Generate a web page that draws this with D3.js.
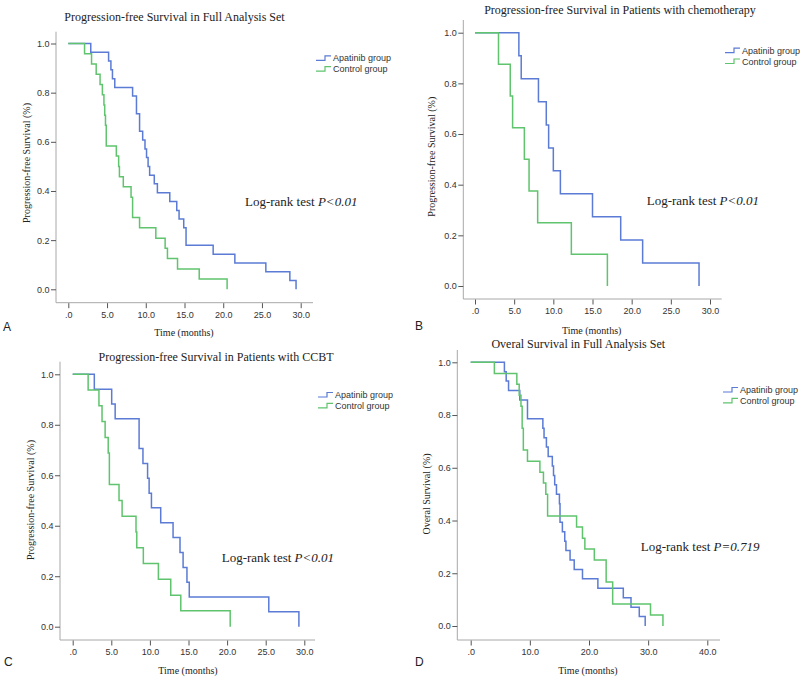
<!DOCTYPE html>
<html>
<head>
<meta charset="utf-8">
<script src="https://cdn.jsdelivr.net/npm/d3@7"></script>
<style>
  html, body { margin: 0; padding: 0; background: #fff; }
  svg { display: block; }
</style>
</head>
<body>
<svg id="chart" width="800" height="677"></svg>
<script>
// ---------------- DATA ----------------
const seriesNames = ["Apatinib group", "Control group"];
const yTickValues = [0, 0.2, 0.4, 0.6, 0.8, 1.0];
const xTicks30 = [0, 5, 10, 15, 20, 25, 30];
const xTicks40 = [0, 10, 20, 30, 40];

const panelTitles = [
  "Progression-free Survival in Full Analysis Set",
  "Progression-free Survival in Patients with chemotherapy",
  "Progression-free Survival in Patients with CCBT",
  "Overal Survival in Full Analysis Set"
];
const panelLetters = ["A", "B", "C", "D"];
const yAxisTitles = [
  "Progression-free Survival (%)",
  "Progression-free Survival (%)",
  "Progression-free Survival (%)",
  "Overal Survival (%)"
];
const xAxisTitle = "Time (months)";
const pValueTexts = ["P<0.01", "P<0.01", "P<0.01", "P=0.719"];

// [time (months), survival]
const pfsFullApatinib = [[0,1],[2.9,0.964],[5.2,0.929],[5.5,0.893],[5.7,0.857],[6.0,0.821],[8.3,0.786],[8.8,0.714],[9.2,0.643],[9.6,0.607],[9.9,0.571],[10.1,0.536],[10.3,0.5],[10.5,0.464],[11.1,0.429],[11.5,0.393],[13.1,0.357],[14.0,0.321],[14.3,0.286],[14.9,0.25],[15.2,0.179],[18.7,0.143],[21.5,0.107],[25.5,0.071],[28.6,0.036],[29.4,0]];
const pfsFullControl = [[0,1],[2.1,0.958],[3.0,0.917],[3.6,0.875],[4.1,0.833],[4.4,0.792],[4.6,0.75],[4.7,0.708],[4.8,0.667],[4.9,0.583],[6.2,0.542],[6.5,0.5],[6.6,0.458],[7.1,0.417],[8.1,0.375],[8.3,0.292],[9.2,0.25],[11.3,0.208],[12.5,0.167],[12.8,0.125],[14.1,0.083],[16.9,0.042],[20.5,0]];

const pfsChemoApatinib = [[0,1],[5.6,0.909],[5.9,0.818],[8.1,0.727],[9.1,0.636],[9.4,0.545],[10.0,0.455],[10.9,0.364],[15.0,0.273],[18.6,0.182],[21.4,0.091],[28.6,0]];
const pfsChemoControl = [[0,1],[3.0,0.875],[4.5,0.75],[4.8,0.625],[6.3,0.5],[6.9,0.375],[8.0,0.25],[12.3,0.125],[16.9,0]];

const pfsCcbtApatinib = [[0,1],[2.8,0.941],[5.05,0.882],[5.5,0.824],[8.6,0.706],[9.1,0.647],[9.7,0.588],[9.9,0.529],[10.2,0.471],[11.4,0.412],[13.0,0.353],[13.9,0.294],[14.3,0.235],[14.8,0.176],[15.1,0.118],[25.4,0.059],[29.3,0]];
const pfsCcbtControl = [[0,1],[2.0,0.938],[3.4,0.875],[3.8,0.813],[4.2,0.75],[4.6,0.688],[4.75,0.563],[6.0,0.5],[6.4,0.438],[8.2,0.375],[8.3,0.313],[9.15,0.25],[11.1,0.188],[12.7,0.125],[14.0,0.063],[20.4,0]];

const osFullApatinib = [[0,1],[5.7,0.964],[6.0,0.929],[6.4,0.893],[8.3,0.857],[9.6,0.786],[12.2,0.75],[12.4,0.714],[12.8,0.679],[13.1,0.643],[13.8,0.607],[14.0,0.571],[14.2,0.536],[14.5,0.5],[15.0,0.464],[15.1,0.393],[15.5,0.357],[15.9,0.321],[16.1,0.286],[16.8,0.25],[17.5,0.214],[18.9,0.179],[21.5,0.143],[25.8,0.107],[27.1,0.071],[28.5,0.036],[29.5,0]];
const osFullControl = [[0,1],[4.0,0.958],[7.8,0.917],[8.2,0.875],[8.5,0.833],[8.7,0.75],[8.9,0.667],[9.6,0.625],[11.7,0.583],[12.3,0.542],[12.7,0.5],[13.0,0.417],[17.9,0.375],[18.9,0.333],[19.3,0.292],[20.9,0.25],[22.9,0.167],[24.0,0.083],[30.4,0.042],[32.5,0]];

// ---------------- LAYOUT ----------------
const colors = ["#5b7bd5", "#5fc46d"];
const panels = [
  { series: [pfsFullApatinib, pfsFullControl], xMax: 30, xTicks: xTicks30,
    axisX: 56, x0: 68.3, xM: 300.7, xEnd: 313, axisY: 302.7, y0: 289.3, y1: 43.5, top: 31.7,
    title: [174.5, 21], ylab: [26.7, 163], xlab: [184, 336], letter: [3, 331],
    legend: [316, 58.3], pval: [245, 206] },
  { series: [pfsChemoApatinib, pfsChemoControl], xMax: 30, xTicks: xTicks30,
    axisX: 463.3, x0: 475, xM: 710, xEnd: 721.7, axisY: 299, y0: 286, y1: 32.7, top: 20,
    title: [620, 14], ylab: [431.7, 156.7], xlab: [591.7, 333.5], letter: [415, 330],
    legend: [725, 50.7], pval: [646.7, 205] },
  { series: [pfsCcbtApatinib, pfsCcbtControl], xMax: 30, xTicks: xTicks30,
    axisX: 60, x0: 72.7, xM: 304.3, xEnd: 315, axisY: 640, y0: 626.7, y1: 374.3, top: 361.7,
    title: [216, 361], ylab: [30, 500], xlab: [188, 673.5], letter: [4, 666],
    legend: [318, 395], pval: [221.7, 562] },
  { series: [osFullApatinib, osFullControl], xMax: 40, xTicks: xTicks40,
    axisX: 457.3, x0: 470.7, xM: 707.3, xEnd: 720, axisY: 640, y0: 626, y1: 362.3, top: 350,
    title: [578.3, 348], ylab: [426.7, 494], xlab: [588, 673.5], letter: [415, 666],
    legend: [723, 390], pval: [640.7, 551] }
];

const svg = d3.select("#chart");
svg.append("rect").attr("width", 800).attr("height", 677).attr("fill", "#fff");

const serif = "'Liberation Serif', 'Times New Roman', serif";
const sans = "'Liberation Sans', Arial, sans-serif";
const xFmt = v => v === 0 ? ".0" : d3.format(".1f")(v);

panels.forEach((p, i) => {
  const g = svg.append("g");
  const x = d3.scaleLinear().domain([0, p.xMax]).range([p.x0, p.xM]);
  const y = d3.scaleLinear().domain([0, 1]).range([p.y0, p.y1]);

  // axis lines
  g.append("line").attr("x1", p.axisX).attr("x2", p.axisX).attr("y1", p.top).attr("y2", p.axisY)
    .attr("stroke", "#a8a8a8").attr("stroke-width", 1);
  g.append("line").attr("x1", p.axisX).attr("x2", p.xEnd).attr("y1", p.axisY).attr("y2", p.axisY)
    .attr("stroke", "#a8a8a8").attr("stroke-width", 1);

  // y axis ticks
  const ya = g.append("g").attr("transform", `translate(${p.axisX},0)`)
    .call(d3.axisLeft(y).tickValues(yTickValues).tickFormat(d3.format(".1f")).tickSize(5).tickPadding(1.5));
  ya.select(".domain").remove();
  ya.selectAll(".tick line").attr("stroke", "#555");
  ya.selectAll(".tick text").attr("font-family", sans).attr("font-size", 9).attr("fill", "#333");

  // x axis ticks
  const xa = g.append("g").attr("transform", `translate(0,${p.axisY + 0.5})`)
    .call(d3.axisBottom(x).tickValues(p.xTicks).tickFormat(xFmt).tickSize(5).tickPadding(3));
  xa.select(".domain").remove();
  xa.selectAll(".tick line").attr("stroke", "#555");
  xa.selectAll(".tick text").attr("font-family", sans).attr("font-size", 9).attr("fill", "#333");

  // curves
  const line = d3.line().x(d => x(d[0])).y(d => y(d[1])).curve(d3.curveStepAfter);
  p.series.forEach((s, k) => {
    g.append("path").attr("d", line(s)).attr("fill", "none")
      .attr("stroke", colors[k]).attr("stroke-width", 1.5);
  });

  // title
  g.append("text").attr("x", p.title[0]).attr("y", p.title[1]).attr("text-anchor", "middle")
    .attr("font-family", serif).attr("font-size", 12).attr("fill", "#222").text(panelTitles[i]);

  // y axis title
  g.append("text").attr("transform", `translate(${p.ylab[0]},${p.ylab[1]}) rotate(-90)`)
    .attr("text-anchor", "middle").attr("dominant-baseline", "central")
    .attr("font-family", serif).attr("font-size", 10).attr("fill", "#222").text(yAxisTitles[i]);

  // x axis title
  g.append("text").attr("x", p.xlab[0]).attr("y", p.xlab[1]).attr("text-anchor", "middle")
    .attr("font-family", serif).attr("font-size", 10).attr("fill", "#222").text(xAxisTitle);

  // panel letter
  g.append("text").attr("x", p.letter[0]).attr("y", p.letter[1])
    .attr("font-family", sans).attr("font-size", 12).attr("fill", "#222").text(panelLetters[i]);

  // legend
  seriesNames.forEach((name, k) => {
    const ly = p.legend[1] + k * 10.8;
    const lx = p.legend[0];
    g.append("path").attr("d", `M${lx},${ly + 2} H${lx + 9} V${ly - 2.5} H${lx + 15}`)
      .attr("fill", "none").attr("stroke", colors[k]).attr("stroke-width", 1.2);
    g.append("text").attr("x", lx + 17).attr("y", ly).attr("dominant-baseline", "central")
      .attr("font-family", sans).attr("font-size", 9).attr("fill", "#333").text(name);
  });

  // log-rank annotation
  const t = g.append("text").attr("x", p.pval[0]).attr("y", p.pval[1])
    .attr("font-family", serif).attr("font-size", 13).attr("fill", "#222");
  t.append("tspan").text("Log-rank test ");
  t.append("tspan").attr("font-style", "italic").text(pValueTexts[i]);
});
</script>
</body>
</html>
